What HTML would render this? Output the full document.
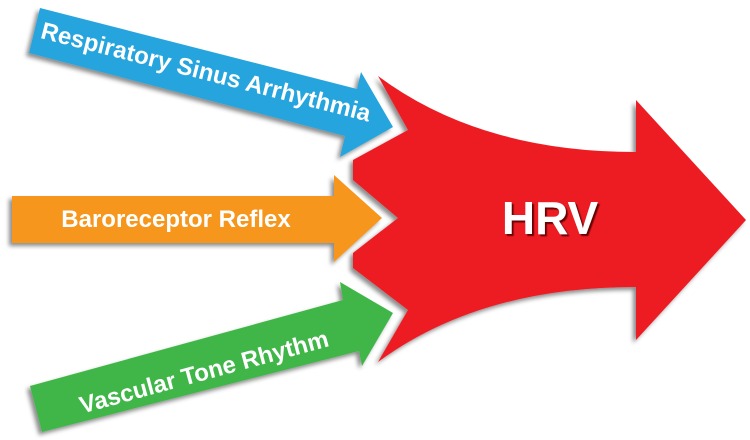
<!DOCTYPE html>
<html><head><meta charset="utf-8"><style>
html,body{margin:0;padding:0;background:#fff;}
svg{display:block;}
text{font-family:"Liberation Sans",Arial,sans-serif;font-weight:bold;fill:#fff;}
</style></head><body>
<svg width="750" height="440" viewBox="0 0 750 440" xmlns="http://www.w3.org/2000/svg">
<defs>
<filter id="sh" x="-10%" y="-10%" width="120%" height="130%">
<feDropShadow dx="-3" dy="3" stdDeviation="2" flood-color="#000" flood-opacity="0.45"/>
</filter>
<filter id="ts" x="-10%" y="-10%" width="130%" height="130%">
<feDropShadow dx="2" dy="2" stdDeviation="0.6" flood-color="#5a0000" flood-opacity="0.9"/>
</filter>
</defs>
<path filter="url(#sh)" fill="#ec1c24" d="M378,76 Q480,152 636,152 L636,100 L746,220 L636,340 L636,287 Q480,287 378,362 L408,310 L353,268 L353,253 L398,218 L353,180 L353,160 L408,130 Z"/>
<path filter="url(#sh)" fill="#25a4dd" d="M40,8 L357,89 L361,72 L393,127 L340,157 L345,136 L29,53 Z"/>
<path filter="url(#sh)" fill="#f7961d" d="M12,196 L334,196 L334,175 L382,218 L334,262 L334,243 L12,243 Z"/>
<path filter="url(#sh)" fill="#41b649" d="M30,386 L343,300 L340,282 L393,313 L362,366 L359,351 L42,432 Z"/>
<text x="206" y="80" font-size="24" text-anchor="middle" transform="rotate(14.3 206 72)">Respiratory Sinus Arrhythmia</text>
<text x="176" y="227" font-size="24" text-anchor="middle">Baroreceptor Reflex</text>
<text x="204" y="380" font-size="24" text-anchor="middle" transform="rotate(-15.3 204 372)">Vascular Tone Rhythm</text>
<text x="550" y="234" font-size="46" text-anchor="middle" filter="url(#ts)">HRV</text>
</svg>
</body></html>
